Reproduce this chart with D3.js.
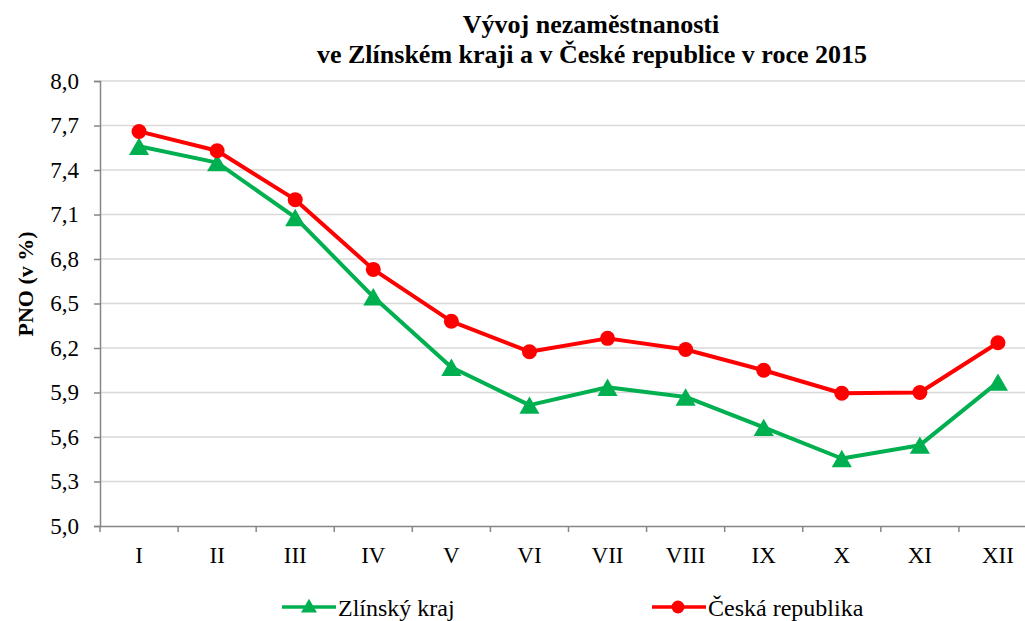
<!DOCTYPE html>
<html>
<head>
<meta charset="utf-8">
<script src="https://cdn.jsdelivr.net/npm/d3@7"></script>
<style>
  body{margin:0;background:#fff;}
  text{font-family:"Liberation Serif","Times New Roman",serif;fill:#000;}
</style>
</head>
<body>
<svg id="chart" width="1025" height="621"></svg>
<script>
'use strict';

var months=['I','II','III','IV','V','VI','VII','VIII','IX','X','XI','XII']
  , zlin=[7.56,7.45,7.08,6.545,6.07,5.815,5.935,5.87,5.665,5.455,5.545,5.97]
  , cr=[7.66,7.53,7.20,6.73,6.38,6.175,6.265,6.19,6.05,5.895,5.90,6.235]
  , yTicks=[5.0,5.3,5.6,5.9,6.2,6.5,6.8,7.1,7.4,7.7,8.0]
  , series=[
        {name:'Zlínský kraj',values:zlin,color:'#00b050',marker:'triangle'}
      , {name:'Česká republika',values:cr,color:'#ff0000',marker:'circle'}
    ];

var svg=d3.select('#chart')
  , pLeft=100, pRight=1037, pTop=81, pBottom=526

var x=d3.scaleBand().domain(months).range([pLeft,pRight])
  , y=d3.scaleLinear().domain([5,8]).range([pBottom,pTop])
  , fmt=function(v){return d3.format('.1f')(v).replace('.',',');};

// gridlines
svg.append('g')
    .selectAll('line')
    .data(yTicks.slice(1))
    .enter().append('line')
    .attr('x1',pLeft).attr('x2',1025)
    .attr('y1',function(d){return y(d);})
    .attr('y2',function(d){return y(d);})
    .attr('stroke','#d9d9d9')
    .attr('stroke-width',1.5);

// y axis
var ya=svg.append('g')
    .attr('transform','translate('+pLeft+',0)')
    .call(d3.axisLeft(y).tickValues(yTicks).tickFormat(fmt).tickSize(6).tickPadding(15));
ya.select('.domain').attr('stroke','#868686').attr('stroke-width',1.5);
ya.selectAll('.tick line').attr('stroke','#868686').attr('stroke-width',1.5);
ya.selectAll('.tick text').style('font-size','23px');

// x axis
var xa=svg.append('g')
    .attr('transform','translate(0,'+pBottom+')')
    .call(d3.axisBottom(x).tickSize(0).tickPadding(21));
xa.select('.domain').attr('stroke','#868686').attr('stroke-width',1.5);
xa.selectAll('.tick text').style('font-size','23px');
xa.selectAll('line.sep')
    .data(months.map(function(m){return x(m);}).concat([pRight]))
    .enter().append('line')
    .attr('class','sep')
    .attr('x1',function(d){return d;}).attr('x2',function(d){return d;})
    .attr('y1',0).attr('y2',6)
    .attr('stroke','#868686').attr('stroke-width',1.5);

var cx=function(i){return x(months[i])+x.bandwidth()/2;}
  , triSize=175
  , tri=d3.symbol().type(d3.symbolTriangle).size(triSize)
  , triShift=Math.sqrt(triSize/(Math.sqrt(3)*3))/2
  , triSmall=d3.symbol().type(d3.symbolTriangle).size(110)

series.forEach(function(s){
    var line=d3.line()
        .x(function(d,i){return cx(i);})
        .y(function(d){return y(d);});
    svg.append('path')
        .datum(s.values)
        .attr('d',line)
        .attr('fill','none')
        .attr('stroke',s.color)
        .attr('stroke-width',4)
        .attr('stroke-linejoin','round');
    var g=svg.append('g');
    if(s.marker=='circle'){
        g.selectAll('circle').data(s.values).enter().append('circle')
            .attr('cx',function(d,i){return cx(i);})
            .attr('cy',function(d){return y(d);})
            .attr('r',7.5)
            .attr('fill',s.color);
    }else{
        g.selectAll('path').data(s.values).enter().append('path')
            .attr('d',tri)
            .attr('transform',function(d,i){return 'translate('+cx(i)+','+(y(d)+triShift)+')';})
            .attr('fill',s.color);
    }
});

// title
svg.append('text')
    .attr('x',591).attr('y',33)
    .attr('text-anchor','middle')
    .style('font-size','26px').style('font-weight','bold')
    .text('Vývoj nezaměstnanosti');
svg.append('text')
    .attr('x',592).attr('y',63)
    .attr('text-anchor','middle')
    .style('font-size','26px').style('font-weight','bold')
    .text('ve Zlínském kraji a v České republice v roce 2015');

// y label
svg.append('text')
    .attr('transform','translate(33,284) rotate(-90)')
    .attr('text-anchor','middle')
    .style('font-size','22px').style('font-weight','bold')
    .text('PNO (v %)');

// legend
var legend=[{x:282},{x:652}];
series.forEach(function(s,i){
    var lx=legend[i].x, ly=607
      , g=svg.append('g');
    g.append('line')
        .attr('x1',lx).attr('x2',lx+54)
        .attr('y1',ly).attr('y2',ly)
        .attr('stroke',s.color).attr('stroke-width',3.5);
    if(s.marker=='circle'){
        g.append('circle').attr('cx',lx+26).attr('cy',ly).attr('r',6.5).attr('fill',s.color);
    }else{
        g.append('path').attr('d',triSmall)
            .attr('transform','translate('+(lx+27)+','+(ly+1)+')')
            .attr('fill',s.color);
    }
    g.append('text')
        .attr('x',lx+56).attr('y',ly+9)
        .style('font-size','24px')
        .text(s.name);
});
</script>
</body>
</html>
